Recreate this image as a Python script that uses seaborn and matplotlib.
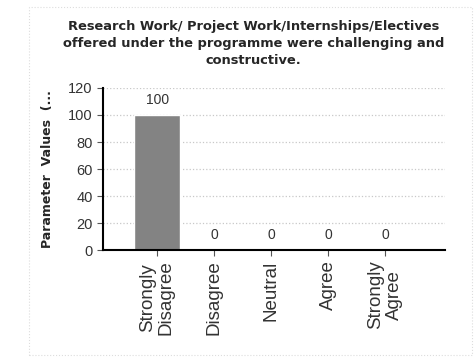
import numpy as np
import pandas as pd
import matplotlib
matplotlib.use('Agg')
import matplotlib.pyplot as plt
import seaborn as sns

# Antworten und Werte aus dem Bild
categories = ['Strongly\nDisagree', 'Disagree', 'Neutral', 'Agree', 'Strongly\nAgree']
values = [100, 0, 0, 0, 0]
y_ticks = [0, 20, 40, 60, 80, 100, 120]

df = pd.DataFrame({'Antwort': categories, 'Wert': values})

sns.set_theme(style='white')
plt.rcParams['font.family'] = ['Liberation Sans', 'DejaVu Sans']

fig = plt.figure(figsize=(4.77, 3.62), dpi=100)
ax = fig.add_axes([0.216, 0.309, 0.717, 0.448])

sns.barplot(data=df, x='Antwort', y='Wert', color='#838383', width=0.8,
            saturation=1, ax=ax)

for c in ax.containers:
    ax.bar_label(c, fmt='%g', padding=6, fontsize=10, color='#333333')

ax.set_ylim(0, 120)
ax.set_yticks(y_ticks)
ax.set_xlim(-0.95, 5.05)
ax.yaxis.grid(True, color='#c8c8c8', linestyle=':', linewidth=0.9)
ax.set_axisbelow(True)

sns.despine(ax=ax)
ax.spines['left'].set_color('black')
ax.spines['bottom'].set_color('black')
ax.spines['left'].set_linewidth(1.5)
ax.spines['bottom'].set_linewidth(1.5)

ax.tick_params(axis='y', length=4, width=0.8, color='#555555',
               labelsize=10.5, labelcolor='#333333', left=True)
ax.tick_params(axis='x', length=4, width=0.8, color='#555555',
               labelsize=13.5, labelcolor='#333333', bottom=True)
plt.setp(ax.get_xticklabels(), rotation=90, ha='center', va='top', linespacing=1.1)

ax.set_xlabel('')
ax.set_ylabel('Parameter  Values  (...', fontsize=9, fontweight='bold',
              family='DejaVu Sans', labelpad=10)

fig.text(0.532, 0.945, 'Research Work/ Project Work/Internships/Electives\n'
         'offered under the programme were challenging and\nconstructive.',
         ha='center', va='top', fontsize=9.4, fontweight='bold',
         family='DejaVu Sans', linespacing=1.4)

fig.patches.append(plt.Rectangle((0.06, 0.02), 0.93, 0.96, transform=fig.transFigure,
                                 fill=False, edgecolor='#dddddd', linestyle=':',
                                 linewidth=0.8))

plt.savefig('out.png', dpi=100)
